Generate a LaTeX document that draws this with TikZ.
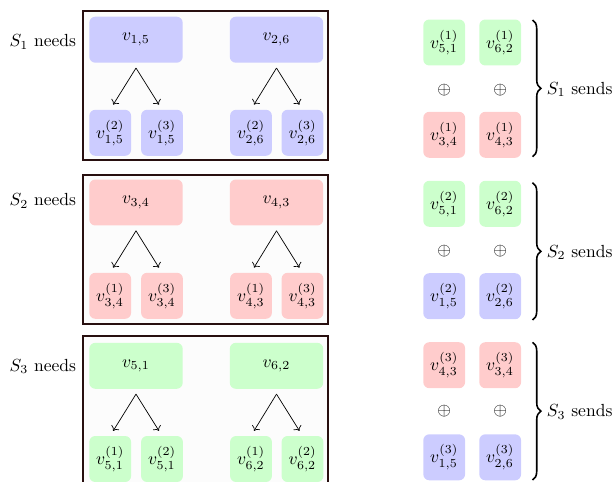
\documentclass[tikz,border=0pt]{standalone}
\usetikzlibrary{arrows.meta,decorations.pathreplacing}
\begin{document}
\begin{tikzpicture}[x=0.57pt,y=-0.57pt,
  bignode/.style={rounded corners=3.4pt,minimum width=53.2pt,minimum height=26.2pt,inner sep=0pt},
  smallnode/.style={rounded corners=3.4pt,minimum width=23.8pt,minimum height=26.2pt,inner sep=0pt},
  bluebox/.style={fill=blue!20},
  redbox/.style={fill=red!20},
  greenbox/.style={fill=green!20},
  frame/.style={draw={rgb,255:red,40;green,15;blue,15},line width=1pt,fill={rgb,255:red,252;green,252;blue,252}},
  splitarrow/.style={->,shorten >=3.2pt},
  bracestyle/.style={decorate,decoration={brace,amplitude=4.8pt},line width=0.9pt},
  lbl/.style={inner sep=0pt}
]
\clip (0,0) rectangle (613,481);
% ---------- group 1 ----------
\draw[frame] (82.7,10.7) rectangle (328.3,160);
\node[lbl,anchor=east] (n1) at (76.5,42.2) {$S_1$ needs};
\node[bignode,bluebox] (a1) at (136,39.7) {$v_{1,5}$};
\node[bignode,bluebox] (a2) at (276.5,39.7) {$v_{2,6}$};
\node[smallnode,bluebox] (a11) at (110.2,132.8) {$v^{(2)}_{1,5}$};
\node[smallnode,bluebox] (a12) at (162,132.8) {$v^{(3)}_{1,5}$};
\node[smallnode,bluebox] (a21) at (251,132.8) {$v^{(2)}_{2,6}$};
\node[smallnode,bluebox] (a22) at (302.5,132.8) {$v^{(3)}_{2,6}$};
\coordinate (a1x) at ([yshift=-2.85pt]a1.south);
\coordinate (a2x) at ([yshift=-2.85pt]a2.south);
\draw[splitarrow] (a1x) -- (a11.north);
\draw[splitarrow] (a1x) -- (a12.north);
\draw[splitarrow] (a2x) -- (a21.north);
\draw[splitarrow] (a2x) -- (a22.north);
% ---------- group 2 ----------
\draw[frame] (82.7,174.7) rectangle (328.3,324);
\node[lbl,anchor=east] (n2) at (76.5,201) {$S_2$ needs};
\node[bignode,redbox] (b1) at (136,202.5) {$v_{3,4}$};
\node[bignode,redbox] (b2) at (276.5,202.5) {$v_{4,3}$};
\node[smallnode,redbox] (b11) at (110.2,295.8) {$v^{(1)}_{3,4}$};
\node[smallnode,redbox] (b12) at (162,295.8) {$v^{(3)}_{3,4}$};
\node[smallnode,redbox] (b21) at (251,295.8) {$v^{(1)}_{4,3}$};
\node[smallnode,redbox] (b22) at (302.5,295.8) {$v^{(3)}_{4,3}$};
\coordinate (b1x) at ([yshift=-2.85pt]b1.south);
\coordinate (b2x) at ([yshift=-2.85pt]b2.south);
\draw[splitarrow] (b1x) -- (b11.north);
\draw[splitarrow] (b1x) -- (b12.north);
\draw[splitarrow] (b2x) -- (b21.north);
\draw[splitarrow] (b2x) -- (b22.north);
% ---------- group 3 ----------
\draw[frame] (82.7,335.7) rectangle (328.3,495);
\node[lbl,anchor=east] (n3) at (76.5,366.5) {$S_3$ needs};
\node[bignode,greenbox] (c1) at (136,365.8) {$v_{5,1}$};
\node[bignode,greenbox] (c2) at (276.5,365.8) {$v_{6,2}$};
\node[smallnode,greenbox] (c11) at (110.2,459) {$v^{(1)}_{5,1}$};
\node[smallnode,greenbox] (c12) at (162,459) {$v^{(2)}_{5,1}$};
\node[smallnode,greenbox] (c21) at (251,459) {$v^{(1)}_{6,2}$};
\node[smallnode,greenbox] (c22) at (302.5,459) {$v^{(2)}_{6,2}$};
\coordinate (c1x) at ([yshift=-2.85pt]c1.south);
\coordinate (c2x) at ([yshift=-2.85pt]c2.south);
\draw[splitarrow] (c1x) -- (c11.north);
\draw[splitarrow] (c1x) -- (c12.north);
\draw[splitarrow] (c2x) -- (c21.north);
\draw[splitarrow] (c2x) -- (c22.north);
% ---------- right column ----------
\node[smallnode,greenbox] (s11) at (444.2,42.5) {$v^{(1)}_{5,1}$};
\node[smallnode,greenbox] (s12) at (500.2,42.5) {$v^{(1)}_{6,2}$};
\node (p11) at (444.2,89.7) {$\oplus$};
\node (p12) at (500.2,89.7) {$\oplus$};
\node[smallnode,redbox] (s13) at (444.2,134.8) {$v^{(1)}_{3,4}$};
\node[smallnode,redbox] (s14) at (500.2,134.8) {$v^{(1)}_{4,3}$};
\coordinate (br1t) at (532.5,20);
\coordinate (br1b) at (532.5,156.7);
\draw[bracestyle] (br1t) -- (br1b);
\node[lbl,anchor=west] (t1) at (546.5,89.5) {$S_1$ sends};

\node[smallnode,greenbox] (s21) at (444.2,203.8) {$v^{(2)}_{5,1}$};
\node[smallnode,greenbox] (s22) at (500.2,203.8) {$v^{(2)}_{6,2}$};
\node (p21) at (444.2,250.7) {$\oplus$};
\node (p22) at (500.2,250.7) {$\oplus$};
\node[smallnode,bluebox] (s23) at (444.2,296.2) {$v^{(2)}_{1,5}$};
\node[smallnode,bluebox] (s24) at (500.2,296.2) {$v^{(2)}_{2,6}$};
\coordinate (br2t) at (532.5,182.7);
\coordinate (br2b) at (532.5,320);
\draw[bracestyle] (br2t) -- (br2b);
\node[lbl,anchor=west] (t2) at (546.5,252.5) {$S_2$ sends};

\node[smallnode,redbox] (s31) at (444.2,365.2) {$v^{(3)}_{4,3}$};
\node[smallnode,redbox] (s32) at (500.2,365.2) {$v^{(3)}_{3,4}$};
\node (p31) at (444.2,411) {$\oplus$};
\node (p32) at (500.2,411) {$\oplus$};
\node[smallnode,bluebox] (s33) at (444.2,457.3) {$v^{(3)}_{1,5}$};
\node[smallnode,bluebox] (s34) at (500.2,457.3) {$v^{(3)}_{2,6}$};
\coordinate (br3t) at (532.5,342.3);
\coordinate (br3b) at (532.5,480);
\draw[bracestyle] (br3t) -- (br3b);
\node[lbl,anchor=west] (t3) at (546.5,412) {$S_3$ sends};
\end{tikzpicture}
\end{document}
